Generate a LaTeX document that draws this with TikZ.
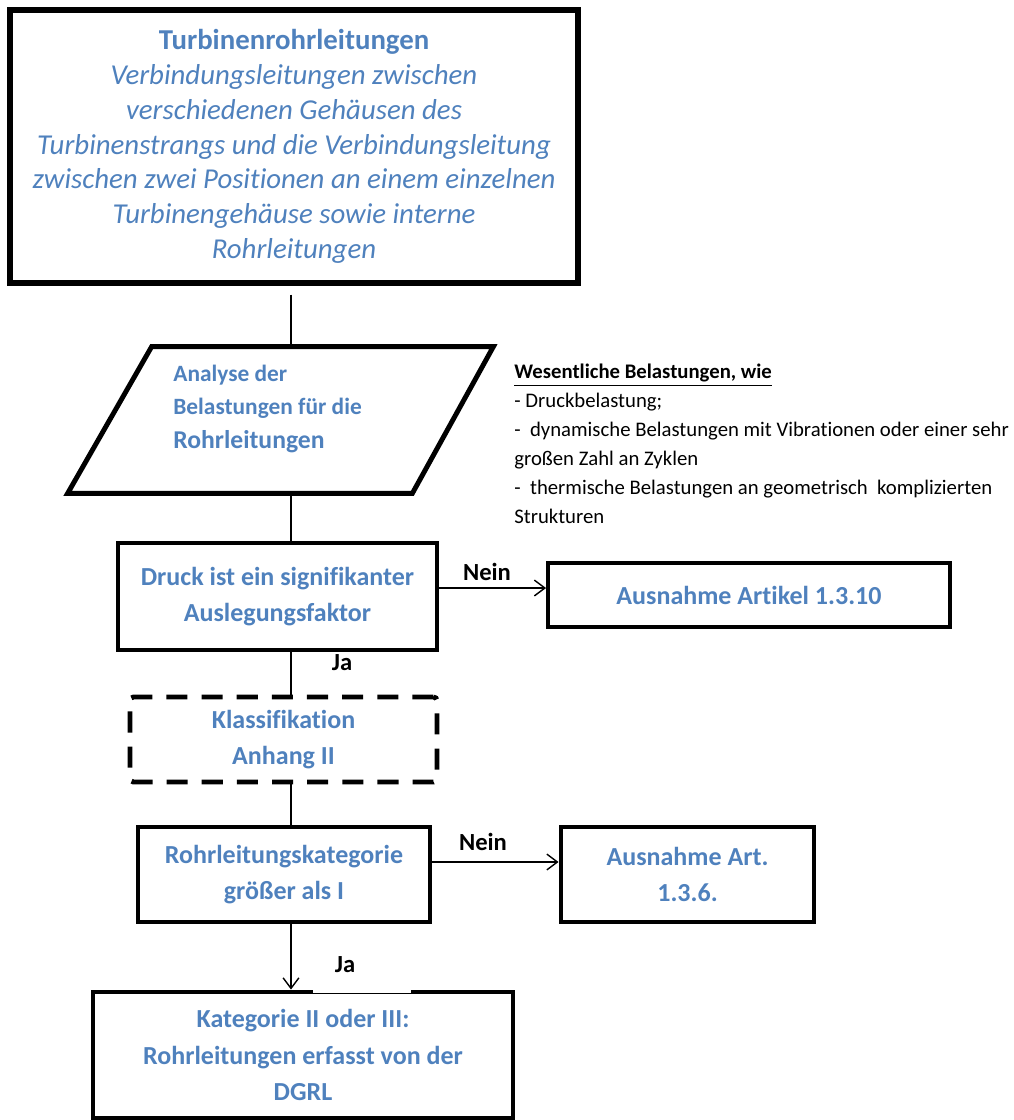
\documentclass[tikz,border=0pt]{standalone}
\usepackage{fontspec}
\setmainfont{Carlito}[Ligatures={TeX,NoCommon}]
\usepackage{tikz}
\usetikzlibrary{arrows.meta,positioning}
\definecolor{txtblue}{RGB}{79,129,189}

\begin{document}
\begin{tikzpicture}[
  >={Straight Barb[length=6pt,width=9pt]},
  mbox/.style={draw,line width=2.8pt,align=center,text=txtblue,
               font=\fontsize{14.8}{20.6}\selectfont\bfseries},
  tbox/.style={mbox,line width=3pt,font=\fontsize{16.4}{19.8}\selectfont},
  dbox/.style={mbox,dash pattern=on 12pt off 8pt,rounded corners=2pt},
  lbl/.style={font=\fontsize{14}{16}\selectfont\bfseries,inner sep=0pt},
  cline/.style={line width=0.8pt},
  carr/.style={cline,->}
]
\useasboundingbox (0,0) rectangle (20.26,-22.4);
\coordinate (spine) at (5.82,0);

% ---- pipes ----
\node[tbox,minimum width=11.36cm,minimum height=5.46cm] (pipes) at (5.88,-2.93)
  {\textbf{Turbinenrohrleitungen}\\
   \textit{Verbindungsleitungen zwischen}\\
   \textit{verschiedenen Gehäusen des}\\
   \textit{Turbinenstrangs und die Verbindungsleitung}\\
   \textit{zwischen zwei Positionen an einem einzelnen}\\
   \textit{Turbinengehäuse sowie interne}\\
   \textit{Rohrleitungen}};

% ---- load analysis ----
\node[minimum width=8.5cm,minimum height=2.92cm,inner sep=0pt] (loads) at (5.61,-8.40) {};
\draw[line width=2.8pt] ([xshift=1.68cm]loads.north west) -- (loads.north east)
  -- ([xshift=-1.62cm]loads.south east) -- (loads.south west) -- cycle;
\node[anchor=west,align=left,inner sep=0pt,text=txtblue,
      font=\fontsize{13.3}{18.5}\selectfont\bfseries] (loadstxt) at (3.46,-8.18)
  {Analyse der\\ Belastungen für die\\[1pt] {\fontsize{14.6}{18.5}\selectfont Rohrleitungen}};
\node[anchor=north west,align=left,inner sep=0pt,
      font=\fontsize{11.8}{16.4}\selectfont] (loadlist) at (10.28,-7.28)
  {\underline{\textbf{Wesentliche Belastungen, wie}}\\
   - Druckbelastung;\\
   -\ \ dynamische Belastungen mit Vibrationen oder einer sehr\\
   großen Zahl an Zyklen\\
   -\ \ thermische Belastungen an geometrisch\ \ komplizierten\\
   Strukturen};

% ---- pressure ----
\node[mbox,minimum width=6.38cm,minimum height=2.14cm] (press) at (5.55,-11.93)
  {Druck ist ein signifikanter\\ Auslegungsfaktor};
\node[mbox,line width=2.2pt,minimum width=8.04cm,minimum height=1.28cm] (exart) at (14.98,-11.90)
  {Ausnahme Artikel 1.3.10};

% ---- classification ----
\node[dbox,minimum width=6.14cm,minimum height=1.7cm] (classif) at (5.67,-14.79)
  {Klassifikation\\ Anhang II};
\node[mbox,minimum width=5.84cm,minimum height=1.9cm] (categ) at (5.68,-17.49)
  {Rohrleitungskategorie\\ größer als I};
\node[mbox,minimum width=5.06cm,minimum height=1.9cm] (exart2) at (13.75,-17.49)
  {Ausnahme Art.\\ 1.3.6.};
\node[mbox,minimum width=8.4cm,minimum height=2.52cm] (dgrl) at (6.06,-21.10)
  {Kategorie II oder III:\\ Rohrleitungen erfasst von der\\ DGRL};
\draw[white,line width=3.4pt] ([xshift=4.44cm]dgrl.north west) -- ([xshift=6.4cm]dgrl.north west);

% ---- connectors ----
\draw[cline] ([yshift=-0.18cm]pipes.south -| spine) -- (loads.north -| spine);
\draw[cline] (loads.south -| spine) -- (press.north -| spine);
\draw[cline] (press.south -| spine) -- (classif.north -| spine);
\draw[cline] (classif.south -| spine) -- (categ.north -| spine);
\draw[carr] (categ.south -| spine) -- (dgrl.north -| spine);
\draw[carr] ([yshift=1.4mm]exart.west -| press.east) -- ([yshift=1.4mm]exart.west);
\draw[carr] ([yshift=2.5mm]exart2.west -| categ.east) -- ([yshift=2.5mm]exart2.west);

% ---- labels ----
\node[lbl] (no1)  at (9.74,-11.44) {Nein};
\node[lbl] (yes1) at (6.84,-13.26) {Ja};
\node[lbl] (no2)  at (9.66,-16.84) {Nein};
\node[lbl] (yes2) at (6.90,-19.30) {Ja};

\end{tikzpicture}
\end{document}
